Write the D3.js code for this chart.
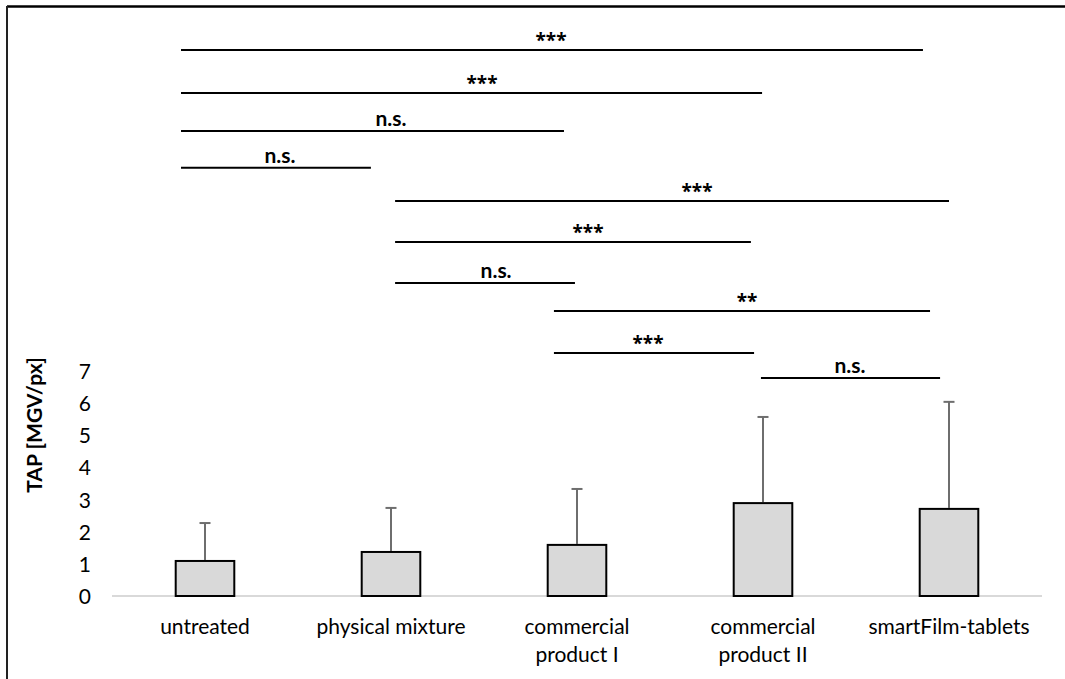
<!DOCTYPE html>
<html>
<head>
<meta charset="utf-8">
<script src="https://cdn.jsdelivr.net/npm/d3@7"></script>
<style>
  html, body { margin: 0; padding: 0; background: #fff; }
  svg { display: block; }
</style>
</head>
<body>
<svg id="chart" width="1065" height="679"></svg>
<script>
// ---- data ----
const categories = ["untreated", "physical mixture", "commercial\nproduct I", "commercial\nproduct II", "smartFilm-tablets"];
const means = [1.09, 1.37, 1.59, 2.89, 2.71];
const sds   = [1.18, 1.37, 1.74, 2.68, 3.33];
const yTicks = [0, 1, 2, 3, 4, 5, 6, 7];
const yTitle = "TAP [MGV/px]";
// significance brackets: start / end / label position in category-index units, level in axis units
const sigLabels = ["***", "***", "n.s.", "n.s.", "***", "***", "n.s.", "**", "***", "n.s."];
const sigFrom   = [-0.129, -0.129, -0.129, -0.129, 1.022, 1.022, 1.022, 1.876, 1.876, 2.989];
const sigTo     = [3.860, 2.995, 1.930, 0.892, 4.0, 2.935, 1.989, 3.898, 2.952, 3.952];
const sigText   = [1.860, 1.489, 1.0, 0.403, 2.645, 2.059, 1.565, 2.914, 2.382, 3.468];
const sigLevel  = [16.99, 15.65, 14.47, 13.32, 12.29, 11.01, 9.74, 8.87, 7.56, 6.78];

// ---- layout ----
const svg = d3.select("#chart");
const W = 1065, H = 679;
const x = d3.scaleBand().domain(d3.range(categories.length)).range([112, 1042]).padding(0);
const xi = d3.scaleLinear().domain([-0.5, categories.length - 0.5]).range([112, 1042]);
const y = d3.scaleLinear().domain([0, 7]).range([596, 371]);
const barW = x.bandwidth() * 0.315;
const FS = 21;
const FONT = "Lato, 'Open Sans', sans-serif";

// outer frame (top and left visible)
svg.append("line").attr("x1", 7).attr("x2", W).attr("y1", 6.5).attr("y2", 6.5)
  .attr("stroke", "#000").attr("stroke-width", 2.5);
svg.append("line").attr("x1", 7).attr("x2", 7).attr("y1", 6).attr("y2", H)
  .attr("stroke", "#222").attr("stroke-width", 2);

// y axis tick labels
const yAxis = d3.axisLeft(y).tickValues(yTicks).tickSize(0).tickPadding(0).tickFormat(d3.format("d"));
const gy = svg.append("g").attr("transform", "translate(91,0)").call(yAxis);
gy.select(".domain").remove();
gy.selectAll("text").style("font-size", FS + "px").style("font-family", FONT)
  .attr("fill", "#000").attr("dy", "0.36em");

// y title
svg.append("text")
  .attr("transform", `translate(42,${(357 + 493) / 2}) rotate(-90)`)
  .attr("text-anchor", "middle").style("font-size", FS + "px").style("font-family", FONT)
  .attr("font-weight", "bold").attr("fill", "#000").text(yTitle);

// baseline
svg.append("line").attr("x1", 112).attr("x2", 1042).attr("y1", y(0)).attr("y2", y(0))
  .attr("stroke", "#d9d9d9").attr("stroke-width", 2);

// bars
const cx = i => x(i) + x.bandwidth() / 2;
svg.selectAll("rect.bar").data(means).enter().append("rect")
  .attr("class", "bar")
  .attr("x", (d, i) => cx(i) - barW / 2)
  .attr("y", d => y(d))
  .attr("width", barW)
  .attr("height", d => y(0) - y(d))
  .attr("fill", "#d9d9d9").attr("stroke", "#000").attr("stroke-width", 2);

// error bars
const eb = svg.selectAll("g.err").data(means).enter().append("g").attr("class", "err");
eb.append("line")
  .attr("x1", (d, i) => cx(i)).attr("x2", (d, i) => cx(i))
  .attr("y1", d => y(d) - 1).attr("y2", (d, i) => y(d + sds[i]))
  .attr("stroke", "#6e6e6e").attr("stroke-width", 2);
eb.append("line")
  .attr("x1", (d, i) => cx(i) - 5.5).attr("x2", (d, i) => cx(i) + 5.5)
  .attr("y1", (d, i) => y(d + sds[i])).attr("y2", (d, i) => y(d + sds[i]))
  .attr("stroke", "#6e6e6e").attr("stroke-width", 2);

// category labels
categories.forEach((c, i) => {
  const t = svg.append("text").attr("x", cx(i)).attr("y", 634)
    .attr("text-anchor", "middle").style("font-size", FS + "px").style("font-family", FONT)
    .attr("fill", "#000");
  c.split("\n").forEach((line, k) => {
    t.append("tspan").attr("x", cx(i)).attr("dy", k === 0 ? 0 : 28).text(line);
  });
});

// significance brackets
sigLabels.forEach((lab, k) => {
  const ly = y(sigLevel[k]);
  const isStar = lab.indexOf("*") >= 0;
  svg.append("line").attr("x1", xi(sigFrom[k])).attr("x2", xi(sigTo[k]))
    .attr("y1", ly).attr("y2", ly).attr("stroke", "#000").attr("stroke-width", 2);
  svg.append("text").attr("x", xi(sigText[k])).attr("y", isStar ? ly - 3 : ly - 5)
    .attr("text-anchor", "middle")
    .style("font-size", (isStar ? 19 : FS) + "px")
    .style("font-family", isStar ? "'Open Sans', sans-serif" : FONT)
    .attr("font-weight", "bold")
    .attr("fill", "#000").text(lab);
});
</script>
</body>
</html>
